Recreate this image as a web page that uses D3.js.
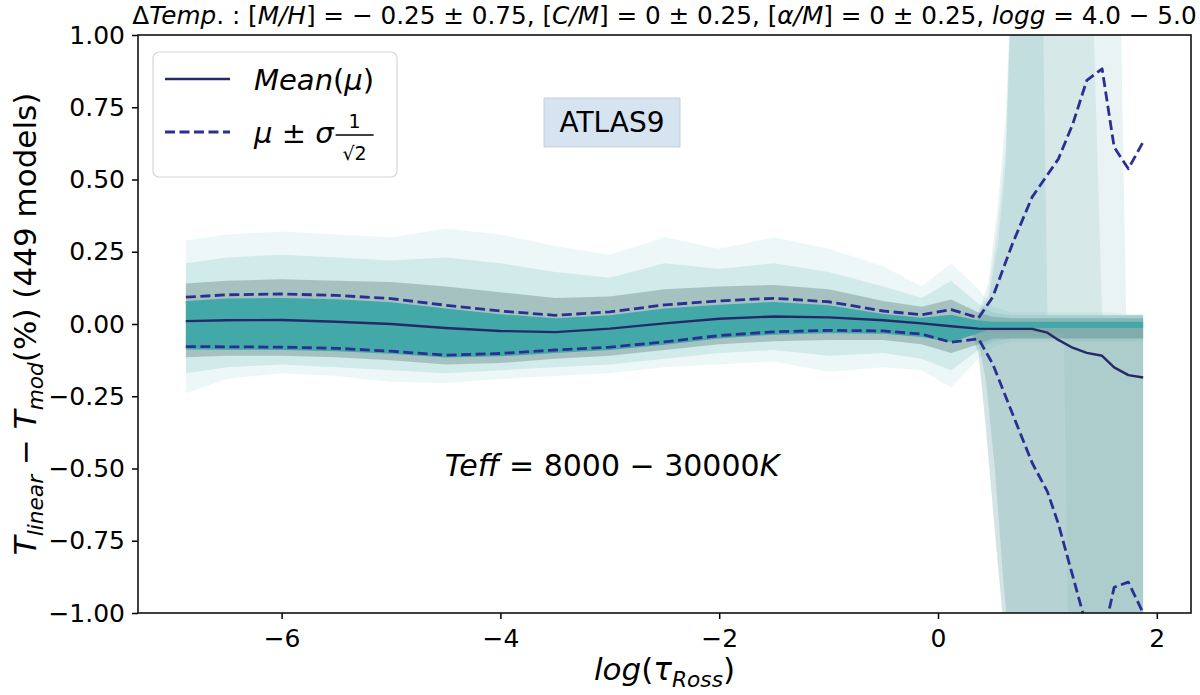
<!DOCTYPE html>
<html>
<head>
<meta charset="UTF-8">
<title>ATLAS9 temperature residuals</title>
<script src="https://d3js.org/d3.v7.min.js"></script>
<style>
  body { margin: 0; background: #fff; }
  svg text { font-family: "DejaVu Sans", sans-serif; fill: #000; }
</style>
</head>
<body>
<div id="chart"></div>
<script>
var logTau = [-6.875, -6.5, -6, -5.5, -5, -4.5, -4, -3.5, -3, -2.5, -2, -1.5, -1, -0.5, -0.15, 0.12, 0.37,
              0.5, 0.68, 0.86, 1.0, 1.1, 1.23, 1.36, 1.5, 1.61, 1.74, 1.875];

// mean and mu +/- sigma/sqrt(2)
var meanT  = [0.010, 0.013, 0.014, 0.008, 0.000, -0.014, -0.024, -0.028, -0.016, 0.002, 0.018, 0.026, 0.023, 0.013, 0.002, -0.008, -0.016,
              -0.017, -0.017, -0.017, -0.030, -0.055, -0.082, -0.100, -0.110, -0.150, -0.177, -0.185];
var upperT = [0.093, 0.101, 0.104, 0.099, 0.088, 0.065, 0.045, 0.030, 0.042, 0.066, 0.080, 0.089, 0.077, 0.045, 0.032, 0.050, 0.021,
              0.093, 0.277, 0.439, 0.516, 0.571, 0.690, 0.843, 0.883, 0.612, 0.537, 0.630];
var lowerT = [-0.078, -0.079, -0.080, -0.084, -0.094, -0.108, -0.102, -0.090, -0.080, -0.062, -0.040, -0.027, -0.022, -0.024, -0.035, -0.063, -0.051,
              -0.138, -0.310, -0.480, -0.580, -0.691, -0.870, -1.050, -1.100, -0.911, -0.893, -1.000];

// spread of the 449 model curves (outer -> inner shading)
var outerUp = [0.29, 0.31, 0.32, 0.31, 0.30, 0.33, 0.31, 0.27, 0.24, 0.30, 0.26, 0.30, 0.26, 0.20, 0.13, 0.21, 0.12,
               0.06, 0.04, 0.04, 0.04, 0.04, 0.04, 0.04, 0.04, 0.04, 0.035, 0.035];
var outerLo = [-0.24, -0.19, -0.17, -0.18, -0.20, -0.205, -0.19, -0.18, -0.17, -0.15, -0.14, -0.13, -0.165, -0.15, -0.16, -0.22, -0.12,
               -0.08, -0.06, -0.06, -0.06, -0.06, -0.06, -0.06, -0.06, -0.06, -0.06, -0.06];
var midUp   = [0.21, 0.23, 0.24, 0.23, 0.22, 0.23, 0.21, 0.18, 0.16, 0.21, 0.19, 0.21, 0.18, 0.13, 0.09, 0.15, 0.07,
               0.04, 0.03, 0.03, 0.03, 0.03, 0.03, 0.03, 0.03, 0.03, 0.03, 0.03];
var midLo   = [-0.17, -0.15, -0.14, -0.15, -0.16, -0.17, -0.16, -0.15, -0.14, -0.12, -0.10, -0.09, -0.11, -0.10, -0.12, -0.16, -0.09,
               -0.06, -0.05, -0.05, -0.05, -0.05, -0.05, -0.05, -0.05, -0.05, -0.05, -0.05];
var grayUp  = [0.14, 0.15, 0.155, 0.15, 0.145, 0.13, 0.11, 0.09, 0.095, 0.12, 0.13, 0.135, 0.12, 0.08, 0.06, 0.085, 0.04,
               0.025, 0.02, 0.02, 0.02, 0.02, 0.02, 0.02, 0.02, 0.02, 0.02, 0.02];
var grayLo  = [-0.115, -0.11, -0.11, -0.115, -0.125, -0.14, -0.135, -0.12, -0.11, -0.09, -0.07, -0.06, -0.055, -0.055, -0.07, -0.10, -0.07,
               -0.05, -0.05, -0.05, -0.05, -0.05, -0.05, -0.05, -0.05, -0.05, -0.05, -0.05];
var coreUp  = [0.080, 0.088, 0.090, 0.086, 0.075, 0.054, 0.034, 0.020, 0.030, 0.054, 0.067, 0.076, 0.065, 0.035, 0.022, 0.032, 0.012,
               0.008, 0.008, 0.008, 0.008, 0.008, 0.008, 0.008, 0.008, 0.008, 0.008, 0.008];
var coreLo  = [-0.088, -0.089, -0.090, -0.094, -0.103, -0.116, -0.112, -0.100, -0.090, -0.072, -0.050, -0.037, -0.032, -0.034, -0.045, -0.062, -0.032,
               -0.014, -0.014, -0.014, -0.014, -0.014, -0.014, -0.014, -0.014, -0.014, -0.014, -0.014];

// deep layers: models shooting above +1 (upper) and below -1 (lower)
var tallTau = [0.36, 0.46, 0.55, 0.62, 0.68, 0.95, 1.0, 1.4, 1.5, 1.66, 1.72, 1.875];
var tallA   = [0.03, 0.14, 0.42, 0.72, 1.3, 1.3, 1.3, 1.3, 1.3, 1.3, 0.03, 0.03];
var tallB   = [0.03, 0.10, 0.35, 0.62, 1.3, 1.3, 1.3, 1.3, 0.03, 0.03, 0.03, 0.03];
var tallC   = [0.03, 0.08, 0.28, 0.55, 1.3, 1.3, 0.03, 0.03, 0.03, 0.03, 0.03, 0.03];
var lowTau  = [0.30, 0.37, 0.44, 0.52, 0.60, 0.70, 1.15, 1.20, 1.875];
var lowA    = [-0.03, -0.10, -0.37, -0.72, -1.05, -1.3, -1.3, -1.3, -1.3];
var lowB    = [-0.03, -0.06, -0.20, -0.50, -0.90, -1.3, -1.3, -1.3, -1.3];
var lowC    = [-0.03, -0.03, -0.03, -0.03, -0.03, -0.03, -0.03, -1.3, -1.3];

var xTicks = [-6, -4, -2, 0, 2];
var yTicks = [-1, -0.75, -0.5, -0.25, 0, 0.25, 0.5, 0.75, 1];

var width = 1200, height = 695;
var pL = 138, pR = 1191, pT = 35, pB = 613;

var svg = d3.select("#chart").append("svg")
    .attr("width", width)
    .attr("height", height);

var x = d3.scaleLinear().domain([-7.3125, 2.3125]).range([pL, pR]);
var y = d3.scaleLinear().domain([-1, 1]).range([pB, pT]);

svg.append("defs").append("clipPath").attr("id", "plotclip")
    .append("rect")
    .attr("x", pL).attr("y", pT)
    .attr("width", pR - pL).attr("height", pB - pT);

var plot = svg.append("g").attr("clip-path", "url(#plotclip)");

// band between two arrays on a tau grid
function band(tau, lo, hi, color, op) {
    var pts = tau.map(function (t, i) { return [t, lo[i], hi[i]]; });
    var area = d3.area()
        .x(function (d) { return x(d[0]); })
        .y0(function (d) { return y(d[1]); })
        .y1(function (d) { return y(d[2]); });
    plot.append("path")
        .attr("d", area(pts))
        .attr("fill", color)
        .attr("fill-opacity", op);
}
function zeros(n) { return d3.range(n).map(function () { return 0; }); }

// models running off the plot
band(tallTau, zeros(tallTau.length), tallA, "#64acac", 0.14);
band(tallTau, zeros(tallTau.length), tallB, "#64acac", 0.14);
band(tallTau, zeros(tallTau.length), tallC, "#64acac", 0.17);
band(lowTau, lowA, zeros(lowTau.length), "#5e9c9c", 0.27);
band(lowTau, lowB, zeros(lowTau.length), "#5e9c9c", 0.25);
band(lowTau, lowC, zeros(lowTau.length), "#5e9c9c", 0.10);

// bulk of the models
band(logTau, outerLo, outerUp, "#40a8a7", 0.09);
band(logTau, midLo, midUp, "#40a8a7", 0.16);
band(logTau, grayLo, grayUp, "#6f9391", 0.45);
band(logTau, coreLo, coreUp, "#40a8a7", 0.97);

function curve(vals, color, w, dash) {
    var line = d3.line()
        .x(function (d, i) { return x(logTau[i]); })
        .y(function (d) { return y(d); });
    plot.append("path")
        .attr("d", line(vals))
        .attr("fill", "none")
        .attr("stroke", color)
        .attr("stroke-width", w)
        .attr("stroke-linejoin", "round")
        .attr("stroke-dasharray", dash);
}
curve(upperT, "#2b2f92", 2.8, "10,4.5");
curve(lowerT, "#2b2f92", 2.8, "10,4.5");
curve(meanT, "#262968", 2.4, null);

// axes
var xAxis = svg.append("g")
    .attr("transform", "translate(0," + pB + ")")
    .call(d3.axisBottom(x).tickValues(xTicks).tickFormat(d3.format("d")).tickSize(6).tickSizeOuter(0).tickPadding(10));
var yAxis = svg.append("g")
    .attr("transform", "translate(" + pL + ",0)")
    .call(d3.axisLeft(y).tickValues(yTicks).tickFormat(d3.format(".2f")).tickSize(6).tickSizeOuter(0).tickPadding(7));
[xAxis, yAxis].forEach(function (a) {
    a.select(".domain").remove();
    a.selectAll("line").attr("stroke", "#000").attr("stroke-width", 1.5);
    a.selectAll("text").attr("font-size", "25px").attr("font-family", "DejaVu Sans").attr("fill", "#000");
});

svg.append("rect")
    .attr("x", pL).attr("y", pT)
    .attr("width", pR - pL).attr("height", pB - pT)
    .attr("fill", "none")
    .attr("stroke", "#111")
    .attr("stroke-width", 1.6);

// mathtext-like text: parts with italic / subscript flags
function rich(txt, parts, size) {
    var shift = 0;
    parts.forEach(function (p) {
        var target = p.sub ? size * 0.22 : 0;
        var ts = txt.append("tspan").text(p.t)
            .attr("dy", target - shift)
            .attr("font-size", (p.sub ? size * 0.7 : size) + "px");
        if (p.i) ts.attr("font-style", "italic");
        shift = target;
    });
    return txt;
}

// title
rich(svg.append("text").attr("x", (pL + pR) / 2).attr("y", 24).attr("text-anchor", "middle"), [
    {t: "\u0394"}, {t: "Temp", i: true}, {t: ". : ["}, {t: "M/H", i: true},
    {t: "] = \u2212 0.25 \u00b1 0.75, ["}, {t: "C/M", i: true},
    {t: "] = 0 \u00b1 0.25, ["}, {t: "\u03b1/M", i: true},
    {t: "] = 0 \u00b1 0.25, "}, {t: "logg", i: true}, {t: " = 4.0 \u2212 5.0"}
], 24.7);

// axis labels
rich(svg.append("text").attr("x", (pL + pR) / 2).attr("y", 680).attr("text-anchor", "middle"), [
    {t: "log", i: true}, {t: "("}, {t: "\u03c4", i: true}, {t: "Ross", i: true, sub: true}, {t: ")"}
], 31);
rich(svg.append("text").attr("transform", "translate(36," + (pT + pB) / 2 + ") rotate(-90)").attr("text-anchor", "middle"), [
    {t: "T", i: true}, {t: "linear", i: true, sub: true}, {t: " \u2212 "}, {t: "T", i: true},
    {t: "mod", i: true, sub: true}, {t: "(%) (449 models)"}
], 31);

// annotations
var atlas = svg.append("g");
atlas.append("rect")
    .attr("x", 544).attr("y", 98).attr("width", 136).attr("height", 49)
    .attr("fill", "#d5e4f0").attr("stroke", "#c3d2de").attr("stroke-width", 1);
atlas.append("text").attr("x", 612).attr("y", 132).attr("text-anchor", "middle")
    .attr("font-size", "28px").text("ATLAS9");

rich(svg.append("text").attr("x", 612).attr("y", 476).attr("text-anchor", "middle"), [
    {t: "Teff", i: true}, {t: " = 8000 \u2212 30000"}, {t: "K", i: true}
], 30);

// legend
var lg = svg.append("g");
lg.append("rect")
    .attr("x", 153).attr("y", 52).attr("width", 244).attr("height", 125).attr("rx", 6)
    .attr("fill", "#fff").attr("fill-opacity", 0.8)
    .attr("stroke", "#d6d6d6").attr("stroke-width", 1.2);
lg.append("line").attr("x1", 165).attr("x2", 230).attr("y1", 79).attr("y2", 79)
    .attr("stroke", "#262968").attr("stroke-width", 2.4);
lg.append("line").attr("x1", 165).attr("x2", 230).attr("y1", 132).attr("y2", 132)
    .attr("stroke", "#2b2f92").attr("stroke-width", 2.8).attr("stroke-dasharray", "10,4.5");
rich(lg.append("text").attr("x", 254).attr("y", 90), [
    {t: "Mean", i: true}, {t: "("}, {t: "\u03bc", i: true}, {t: ")"}
], 29);
var mu = rich(lg.append("text").attr("x", 254).attr("y", 143), [
    {t: "\u03bc", i: true}, {t: " \u00b1 "}, {t: "\u03c3", i: true}
], 29);
var fx = 254 + mu.node().getComputedTextLength() + 2;
lg.append("text").attr("x", fx + 19).attr("y", 128).attr("text-anchor", "middle")
    .attr("font-size", "19px").text("1");
lg.append("line").attr("x1", fx).attr("x2", fx + 38).attr("y1", 135).attr("y2", 135)
    .attr("stroke", "#000").attr("stroke-width", 1.3);
lg.append("text").attr("x", fx + 19).attr("y", 160).attr("text-anchor", "middle")
    .attr("font-size", "19px").text("\u221a2");
</script>
</body>
</html>
